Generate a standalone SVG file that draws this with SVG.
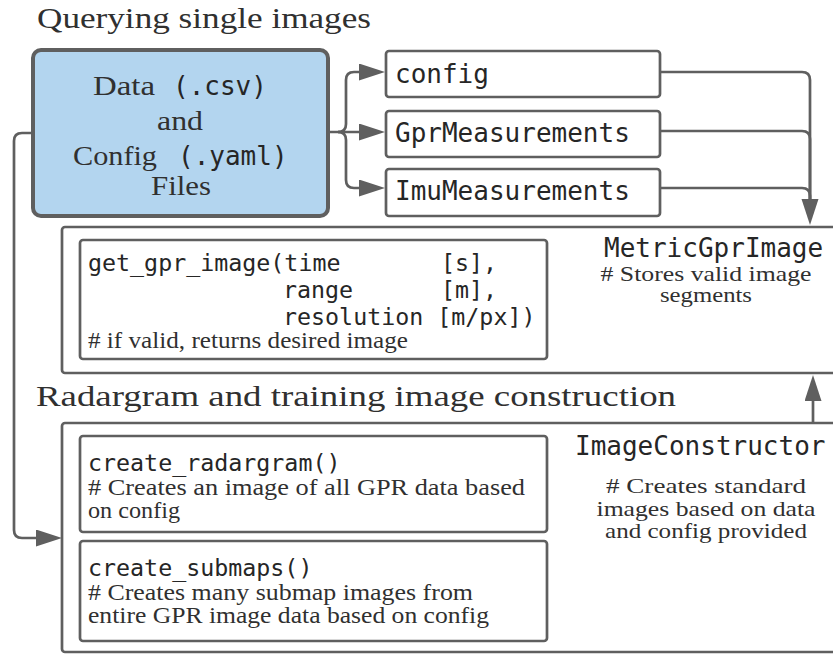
<svg xmlns="http://www.w3.org/2000/svg" width="833" height="654" viewBox="0 0 833 654">
<defs>
<style>
.box{fill:#fff;stroke:#5f5f5f;stroke-width:2.7}
.outer{fill:#fff;stroke:#5f5f5f;stroke-width:2.7}
.blue{fill:#b3d5ef;stroke:#5f5f5f;stroke-width:4}
.serif{font-family:"Liberation Serif","Times New Roman",serif;fill:#303030}
.mono{font-family:"DejaVu Sans Mono","Liberation Mono",monospace;fill:#262626}
.conn{fill:none;stroke:#5f5f5f;stroke-width:2.7}
</style>
<marker id="arr" markerUnits="userSpaceOnUse" markerWidth="28" markerHeight="18" refX="2" refY="8.5" orient="auto">
<path d="M0,0 L26,8.5 L0,17 Z" fill="#5f5f5f"/>
</marker>
</defs>
<rect width="833" height="654" fill="#fff"/>

<g id="title-query">
<text class="serif" x="37" y="28" font-size="30" textLength="334" lengthAdjust="spacingAndGlyphs">Querying single images</text>
</g>

<g id="data-files">
<rect class="blue" x="33" y="50" width="295" height="166" rx="8"/>
<text class="serif" x="93" y="95" font-size="27" textLength="62" lengthAdjust="spacingAndGlyphs">Data</text>
<text class="mono" x="173" y="95" font-size="26">(.csv)</text>
<text class="serif" x="157" y="130" font-size="27" textLength="46" lengthAdjust="spacingAndGlyphs">and</text>
<text class="serif" x="73" y="165" font-size="27" textLength="84" lengthAdjust="spacingAndGlyphs">Config</text>
<text class="mono" x="178" y="165" font-size="26">(.yaml)</text>
<text class="serif" x="151" y="195" font-size="27" textLength="60" lengthAdjust="spacingAndGlyphs">Files</text>
</g>

<g id="config">
<rect class="box" x="386" y="51" width="274" height="46" rx="3"/>
<text class="mono" x="395" y="83" font-size="26">config</text>
</g>
<g id="gpr-measurements">
<rect class="box" x="386" y="111" width="274" height="46" rx="3"/>
<text class="mono" x="395" y="142" font-size="26">GprMeasurements</text>
</g>
<g id="imu-measurements">
<rect class="box" x="386" y="169" width="274" height="47" rx="3"/>
<text class="mono" x="395" y="200" font-size="26">ImuMeasurements</text>
</g>

<g id="metric-gpr-image">
<rect class="outer" x="62" y="227" width="790" height="146" rx="3"/>
<text class="mono" x="604" y="257" font-size="26">MetricGprImage</text>
<text class="serif" x="706" y="281" font-size="22" text-anchor="middle" textLength="211" lengthAdjust="spacingAndGlyphs"># Stores valid image</text>
<text class="serif" x="706" y="302" font-size="22" text-anchor="middle" textLength="92" lengthAdjust="spacingAndGlyphs">segments</text>
</g>
<g id="get-gpr-image">
<rect class="box" x="80" y="240" width="467" height="119" rx="3"/>
<text class="mono" x="88" y="271" font-size="23.3">get_gpr_image(time</text>
<text class="mono" x="441" y="271" font-size="23.3">[s],</text>
<text class="mono" x="283" y="298" font-size="23.3">range</text>
<text class="mono" x="441" y="298" font-size="23.3">[m],</text>
<text class="mono" x="283" y="325" font-size="23.3">resolution [m/px])</text>
<text class="serif" x="88" y="348" font-size="23" textLength="320" lengthAdjust="spacingAndGlyphs"># if valid, returns desired image</text>
</g>

<g id="title-construction">
<text class="serif" x="36" y="406" font-size="30" textLength="640" lengthAdjust="spacingAndGlyphs">Radargram and training image construction</text>
</g>

<g id="image-constructor">
<rect class="outer" x="62" y="423" width="790" height="229" rx="3"/>
<text class="mono" x="575" y="455" font-size="26">ImageConstructor</text>
<text class="serif" x="706" y="493" font-size="22" text-anchor="middle" textLength="200" lengthAdjust="spacingAndGlyphs"># Creates standard</text>
<text class="serif" x="706" y="516" font-size="22" text-anchor="middle" textLength="219" lengthAdjust="spacingAndGlyphs">images based on data</text>
<text class="serif" x="706" y="538" font-size="22" text-anchor="middle" textLength="202" lengthAdjust="spacingAndGlyphs">and config provided</text>
</g>
<g id="create-radargram">
<rect class="box" x="80" y="436" width="467" height="96" rx="3"/>
<text class="mono" x="88" y="471" font-size="23.3">create_radargram()</text>
<text class="serif" x="88" y="495" font-size="23.5" textLength="437" lengthAdjust="spacingAndGlyphs"># Creates an image of all GPR data based</text>
<text class="serif" x="88" y="518" font-size="23.5" textLength="92" lengthAdjust="spacingAndGlyphs">on config</text>
</g>
<g id="create-submaps">
<rect class="box" x="80" y="541" width="467" height="100" rx="3"/>
<text class="mono" x="88" y="576" font-size="23.3">create_submaps()</text>
<text class="serif" x="88" y="600" font-size="23.5" textLength="385" lengthAdjust="spacingAndGlyphs"># Creates many submap images from</text>
<text class="serif" x="88" y="623" font-size="23.5" textLength="401" lengthAdjust="spacingAndGlyphs">entire GPR image data based on config</text>
</g>

<g id="connectors">
<path class="conn" d="M328,132 H361" marker-end="url(#arr)"/>
<path class="conn" d="M338,132 Q346,132 346,124 V80 Q346,72 354,72 H361" marker-end="url(#arr)"/>
<path class="conn" d="M338,132 Q346,132 346,140 V180 Q346,188 354,188 H361" marker-end="url(#arr)"/>
<path class="conn" d="M660,72 H802 Q810,72 810,80 V201" marker-end="url(#arr)"/>
<path class="conn" d="M660,131 H802 Q810,131 810,139 V200"/>
<path class="conn" d="M660,188 H802 Q810,188 810,196 V200"/>
<path class="conn" d="M33,133 H22 Q14,133 14,141 V530 Q14,538 22,538 H38" marker-end="url(#arr)"/>
<path class="conn" d="M813,423 V399" marker-end="url(#arr)"/>
</g>
</svg>
